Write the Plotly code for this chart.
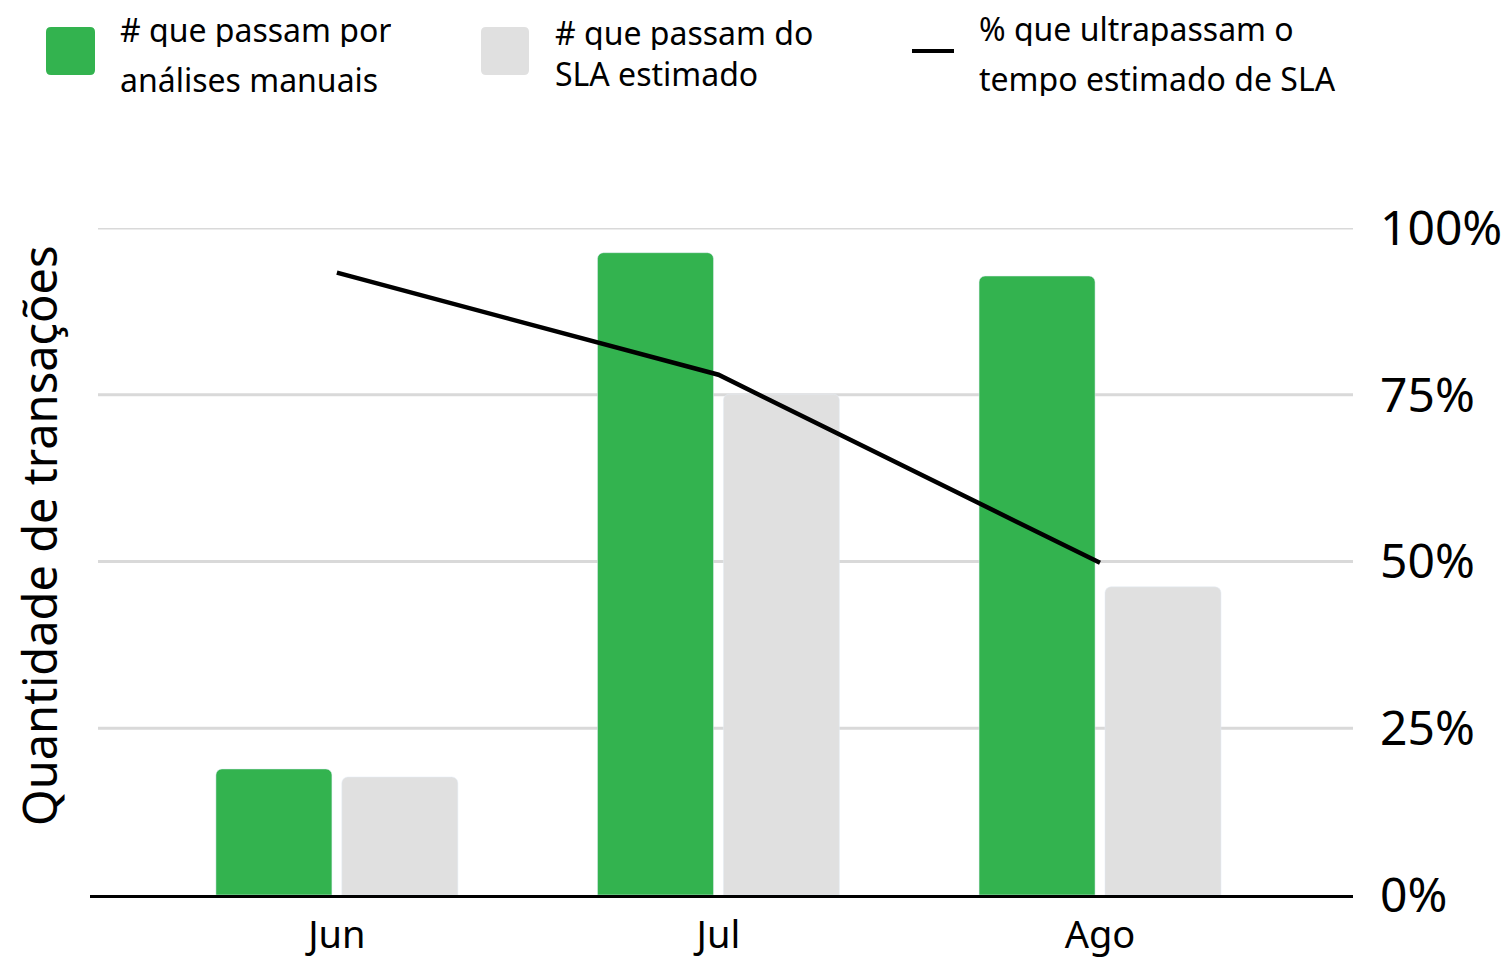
import plotly.graph_objects as go

categories = ["Jun", "Jul", "Ago"]
manual_reviews = [18.9, 96.3, 92.8]
over_sla_count = [17.7, 75.1, 46.2]
over_sla_pct = [93.3, 78.0, 49.8]
pct_ticks = [0, 25, 50, 75, 100]
pct_tick_labels = ["0%", "25%", "50%", "75%", "100%"]

W, H = 1511, 974
OFF = 8  # page body margin
# plot area in page pixels: x 90..1353, y 228..895
L = 90 - OFF
T = 228 - OFF
R = W - (1353 - OFF)
B = H - (895 - OFF)
PW, PH = W - L - R, H - T - B


def px(x):
    return (x - OFF - L) / PW


def py(y):
    return (H - B - (y - OFF)) / PH


def rounded_rect(x0, y0, x1, y1, r):
    # page-pixel rectangle with rounded corners -> SVG path in paper coords
    pts = []
    def P(x, y):
        return f"{px(x):.6f},{py(y):.6f}"
    pts.append(f"M{P(x0 + r, y0)}")
    pts.append(f"L{P(x1 - r, y0)}")
    pts.append(f"Q{P(x1, y0)} {P(x1, y0 + r)}")
    pts.append(f"L{P(x1, y1 - r)}")
    pts.append(f"Q{P(x1, y1)} {P(x1 - r, y1)}")
    pts.append(f"L{P(x0 + r, y1)}")
    pts.append(f"Q{P(x0, y1)} {P(x0, y1 - r)}")
    pts.append(f"L{P(x0, y0 + r)}")
    pts.append(f"Q{P(x0, y0)} {P(x0 + r, y0)}")
    pts.append("Z")
    return " ".join(pts)


FONT = "Noto Sans"
GREEN = "#33B34F"
GRAY = "#E0E0E0"
GRID = "#D9D9D9"

fig = go.Figure()
xidx = list(range(len(categories)))
fig.add_trace(go.Bar(x=xidx, y=manual_reviews, marker_color=GREEN, width=0.304,
                     offset=-0.317, name="# que passam por análises manuais"))
fig.add_trace(go.Bar(x=xidx, y=over_sla_count, marker_color=GRAY, width=0.304,
                     offset=0.013, name="# que passam do SLA estimado"))
fig.add_trace(go.Scatter(x=xidx, y=over_sla_pct, mode="lines", yaxis="y2",
                         line=dict(color="black", width=4.5),
                         name="% que ultrapassam o tempo estimado de SLA"))

fig.update_layout(
    width=W, height=H,
    margin=dict(l=L, r=R, t=T, b=B, pad=0),
    paper_bgcolor="white", plot_bgcolor="white",
    showlegend=False,
    barcornerradius=6,
    font=dict(family=FONT, color="black"),
    xaxis=dict(
        range=[-0.647, 2.663],
        tickmode="array", tickvals=xidx, ticktext=categories,
        tickfont=dict(size=38, family=FONT),
        showgrid=False, showline=True, linecolor="black", linewidth=3,
        ticks="", ticklabelstandoff=4, zeroline=False,
    ),
    yaxis=dict(
        range=[0, 100], tickvals=pct_ticks, showticklabels=False,
        showgrid=False, zeroline=False, ticks="",
    ),
    yaxis2=dict(
        range=[0, 100], overlaying="y", side="right",
        tickvals=pct_ticks, ticktext=pct_tick_labels,
        tickfont=dict(size=48, family=FONT),
        showgrid=False, zeroline=False, ticks="", ticklabelstandoff=26,
    ),
)

# Gridlines (start slightly right of the plot's left edge)
for v in pct_ticks[1:]:
    fig.add_shape(type="line", xref="paper", yref="y", x0=px(98), x1=1,
                  y0=v, y1=v, line=dict(color=GRID, width=3), layer="below")

# Y axis title
fig.add_annotation(text="Quantidade de transações", textangle=-90,
                   xref="paper", yref="paper", x=px(39), y=py(536),
                   xanchor="center", yanchor="middle", showarrow=False,
                   font=dict(size=47, family=FONT))

# Custom legend
fig.add_shape(type="path", xref="paper", yref="paper",
              path=rounded_rect(46, 27, 95, 75, 5),
              fillcolor=GREEN, line_width=0, layer="above")
fig.add_shape(type="path", xref="paper", yref="paper",
              path=rounded_rect(481, 27, 529, 75, 5),
              fillcolor=GRAY, line_width=0, layer="above")
fig.add_shape(type="line", xref="paper", yref="paper",
              x0=px(912), x1=px(954), y0=py(51), y1=py(51),
              line=dict(color="black", width=4))

legend_lines = [
    (118, 29, "# que passam por"), (118, 79, "análises manuais"),
    (553, 32, "# que passam do"), (553, 73, "SLA estimado"),
    (977, 28, "% que ultrapassam o"), (977, 78, "tempo estimado de SLA"),
]
for lx, ly, txt in legend_lines:
    fig.add_annotation(text=txt, xref="paper", yref="paper", x=px(lx), y=py(ly),
                       xanchor="left", yanchor="middle", showarrow=False,
                       height=36, valign="middle",
                       font=dict(size=32, family=FONT))

fig.write_html("out.html")
